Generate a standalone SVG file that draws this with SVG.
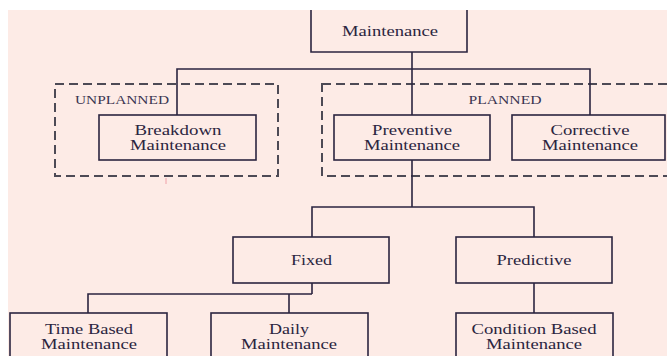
<svg xmlns="http://www.w3.org/2000/svg" width="667" height="356" viewBox="0 0 667 356">
<style>
.box{fill:#fdebe6;stroke:#2b2540;stroke-width:1.6}
.ln{fill:none;stroke:#2b2540;stroke-width:1.6}
.dash{fill:none;stroke:#4d4a55;stroke-width:2;stroke-dasharray:9 5}
text{font-family:"Liberation Serif","Times New Roman",serif;font-size:15px;fill:#2b2540;text-anchor:middle}
.lbl{font-size:12px;fill:#3a3450}
</style>
<rect x="0" y="0" width="667" height="356" fill="#ffffff"/>
<rect x="8" y="10" width="659" height="346" fill="#fdebe6"/>
<g id="groups">
<rect class="dash" x="55" y="84" width="223" height="92"/>
<rect class="dash" x="322" y="84" width="360" height="92"/>
<text class="lbl" x="122" y="103.5" textLength="94" lengthAdjust="spacingAndGlyphs">UNPLANNED</text>
<text class="lbl" x="505" y="103.5" textLength="73" lengthAdjust="spacingAndGlyphs">PLANNED</text>
</g>
<g id="connectors">
<path class="ln" d="M412 52V115M177 115V69H590V115"/>
<path class="ln" d="M412 160V207M312 237V207H534V237"/>
<path class="ln" d="M312 283V294M88 313V294H312M289 294V313"/>
<path class="ln" d="M534 283V313"/>
</g>
<g id="maintenance">
<path class="box" d="M311 10V52H467V10"/>
<text x="390" y="36" textLength="96" lengthAdjust="spacingAndGlyphs">Maintenance</text>
</g>
<g id="breakdown">
<rect class="box" x="99" y="115" width="157" height="45"/>
<text x="178" y="135" textLength="87" lengthAdjust="spacingAndGlyphs">Breakdown</text>
<text x="178" y="150" textLength="96" lengthAdjust="spacingAndGlyphs">Maintenance</text>
</g>
<g id="preventive">
<rect class="box" x="334" y="115" width="156" height="45"/>
<text x="412" y="135" textLength="80" lengthAdjust="spacingAndGlyphs">Preventive</text>
<text x="412" y="150" textLength="96" lengthAdjust="spacingAndGlyphs">Maintenance</text>
</g>
<g id="corrective">
<rect class="box" x="512" y="115" width="153" height="45"/>
<text x="590" y="135" textLength="79" lengthAdjust="spacingAndGlyphs">Corrective</text>
<text x="590" y="150" textLength="96" lengthAdjust="spacingAndGlyphs">Maintenance</text>
</g>
<g id="fixed">
<rect class="box" x="233" y="237" width="156" height="46"/>
<text x="311.5" y="264.5" textLength="41" lengthAdjust="spacingAndGlyphs">Fixed</text>
</g>
<g id="predictive">
<rect class="box" x="456" y="237" width="156" height="46"/>
<text x="534" y="264.5" textLength="75" lengthAdjust="spacingAndGlyphs">Predictive</text>
</g>
<g id="timebased">
<rect class="box" x="10" y="313" width="157" height="60"/>
<text x="89" y="333.5" textLength="88" lengthAdjust="spacingAndGlyphs">Time Based</text>
<text x="89" y="349" textLength="96" lengthAdjust="spacingAndGlyphs">Maintenance</text>
</g>
<g id="daily">
<rect class="box" x="211" y="313" width="157" height="60"/>
<text x="289" y="333.5" textLength="40" lengthAdjust="spacingAndGlyphs">Daily</text>
<text x="289" y="349" textLength="96" lengthAdjust="spacingAndGlyphs">Maintenance</text>
</g>
<g id="conditionbased">
<rect class="box" x="456" y="313" width="157" height="60"/>
<text x="534" y="333.5" textLength="125" lengthAdjust="spacingAndGlyphs">Condition Based</text>
<text x="534" y="349" textLength="96" lengthAdjust="spacingAndGlyphs">Maintenance</text>
</g>
<path d="M166 178V184" stroke="#f0a0a8" stroke-width="1"/>
</svg>
